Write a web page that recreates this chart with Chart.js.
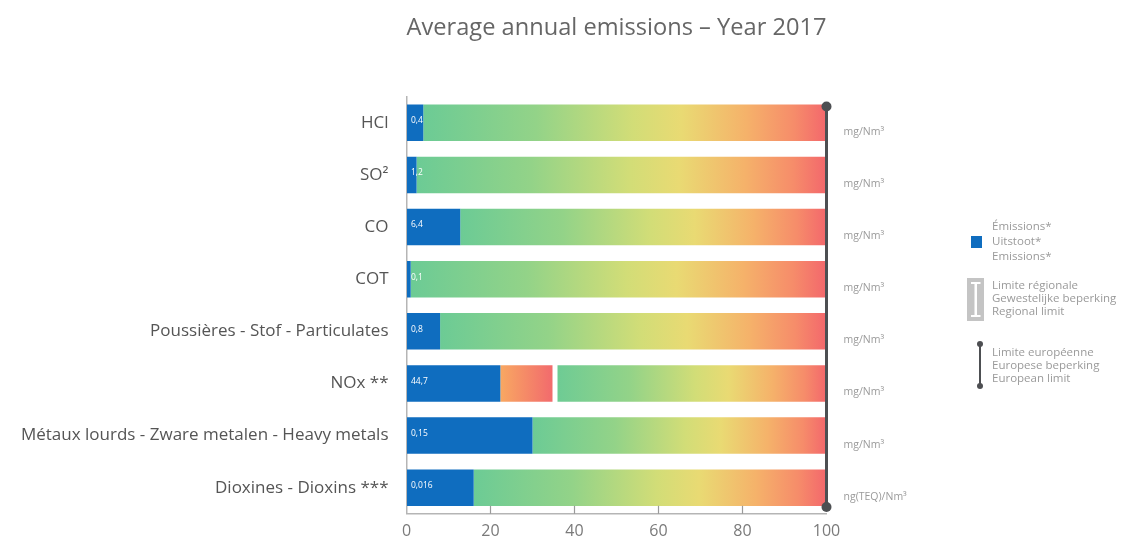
<!DOCTYPE html>
<html>
<head>
<meta charset="utf-8">
<title>Average annual emissions – Year 2017</title>
<script src="https://cdn.jsdelivr.net/npm/chart.js@4.4.1/dist/chart.umd.min.js"></script>
<style>
  html, body { margin: 0; padding: 0; background: #ffffff; }
  #wrap { position: relative; width: 1132px; height: 542px; }
</style>
</head>
<body>
<div id="wrap"><canvas id="chart"></canvas></div>
<script>
// Pollutants, measured yearly averages and the European limit values they are compared with
const categories = [
  'HCl',
  'SO²',
  'CO',
  'COT',
  'Poussières - Stof - Particulates',
  'NOx **',
  'Métaux lourds - Zware metalen - Heavy metals',
  'Dioxines - Dioxins ***'
];
const emissionValues = [0.4, 1.2, 6.4, 0.1, 0.8, 44.7, 0.15, 0.016];
const emissionLabels = ['0,4', '1,2', '6,4', '0,1', '0,8', '44,7', '0,15', '0,016'];
const europeanLimits = [10, 50, 50, 10, 10, 200, 0.5, 0.1];
const regionalLimits = [null, null, null, null, null, 70, null, null];
const unitLabels = ['mg/Nm³', 'mg/Nm³', 'mg/Nm³', 'mg/Nm³', 'mg/Nm³', 'mg/Nm³', 'mg/Nm³', 'ng(TEQ)/Nm³'];
const xTicks = [0, 20, 40, 60, 80, 100];

// Share of the European limit, in %
const emissionPct = emissionValues.map((v, i) => v / europeanLimits[i] * 100);
const regionalPct = regionalLimits.map((r, i) => r == null ? null : r / europeanLimits[i] * 100);

const FONT = "'Open Sans', 'Noto Sans', sans-serif";
const BLUE = '#0f6dbf';

// Floating bars: [start, end] on the 0–100 scale
const emissionBars = emissionPct.map(p => [0, p]);
const regionalBars = emissionPct.map((p, i) => regionalPct[i] == null ? null : [p, regionalPct[i]]);
const headroomBars = emissionPct.map((p, i) => [regionalPct[i] == null ? p : regionalPct[i], 100]);

function barGradient(ctx, stops) {
  const chart = ctx.chart;
  if (!chart.chartArea || !ctx.raw) return stops[0][1];
  const x = chart.scales.x;
  const x0 = x.getPixelForValue(ctx.raw[0]);
  const x1 = x.getPixelForValue(ctx.raw[1]);
  const g = chart.ctx.createLinearGradient(x0, 0, x1, 0);
  stops.forEach(s => g.addColorStop(s[0], s[1]));
  return g;
}

const headroomStops = [
  [0.00, '#6ccb95'],
  [0.28, '#93d388'],
  [0.52, '#d2dd77'],
  [0.64, '#e9da73'],
  [0.80, '#f5b26a'],
  [0.92, '#f68c6a'],
  [1.00, '#f3676c']
];
const regionalStops = [
  [0.00, '#f8a862'],
  [1.00, '#f2696d']
];

// Extra drawing: values inside the blue bars, units, limit markers, axis ticks, legend
const decorations = {
  id: 'decorations',
  afterDatasetsDraw(chart) {
    const { ctx, scales } = chart;
    const x = scales.x;
    const meta = chart.getDatasetMeta(0);
    const bars = meta.data;
    const h = bars[0].height;

    ctx.save();

    // regional limit marker (white gap inside the bar)
    regionalPct.forEach((r, i) => {
      if (r == null) return;
      const px = x.getPixelForValue(r);
      const el = bars[i];
      ctx.fillStyle = '#ffffff';
      ctx.fillRect(px - 1, el.y - h / 2 - 1, 5, h + 2);
    });

    // emission values
    ctx.fillStyle = '#ffffff';
    ctx.font = '8.5px ' + FONT;
    ctx.textAlign = 'left';
    ctx.textBaseline = 'middle';
    bars.forEach((el, i) => {
      ctx.fillText(emissionLabels[i], el.base + 4, el.y - 2);
    });

    // units at the right of the bars
    ctx.fillStyle = '#9a9a9a';
    ctx.font = '10.5px ' + FONT;
    bars.forEach((el, i) => {
      ctx.fillText(unitLabels[i], x.getPixelForValue(100) + 17, el.y + 9);
    });

    // European limit: vertical line with round ends
    const ex = x.getPixelForValue(100);
    const top = bars[0].y - h / 2 + 2;
    const bottom = bars[bars.length - 1].y + h / 2 + 1;
    ctx.strokeStyle = '#4d4f52';
    ctx.lineWidth = 3;
    ctx.beginPath();
    ctx.moveTo(ex, top);
    ctx.lineTo(ex, bottom);
    ctx.stroke();
    ctx.fillStyle = '#4d4f52';
    [top, bottom].forEach(y => {
      ctx.beginPath();
      ctx.arc(ex, y, 5, 0, Math.PI * 2);
      ctx.fill();
    });

    // inner tick marks on the value axis
    ctx.strokeStyle = '#9a9a9a';
    ctx.lineWidth = 1.2;
    const yb = chart.chartArea.bottom;
    xTicks.slice(1, -1).forEach(v => {
      const px = x.getPixelForValue(v);
      ctx.beginPath();
      ctx.moveTo(px, yb - 8);
      ctx.lineTo(px, yb);
      ctx.stroke();
    });

    // legend
    ctx.font = '11.5px ' + FONT;
    ctx.fillStyle = '#9a9a9a';
    ctx.textBaseline = 'middle';
    const tx = 992;
    ['Émissions*', 'Uitstoot*', 'Emissions*'].forEach((t, k) => ctx.fillText(t, tx, 227 + k * 15));
    ctx.fillStyle = BLUE;
    ctx.fillRect(971, 236, 11, 12);

    ctx.fillStyle = '#c4c4c4';
    ctx.fillRect(967, 278, 17, 43);
    ctx.fillStyle = '#ffffff';
    ctx.fillRect(974.5, 283, 2.5, 33);
    ctx.fillRect(971, 282, 9.5, 2);
    ctx.fillRect(971, 315, 9.5, 2);
    ctx.fillStyle = '#9a9a9a';
    ['Limite régionale', 'Gewestelijke beperking', 'Regional limit'].forEach((t, k) => ctx.fillText(t, tx, 286 + k * 13));

    ctx.strokeStyle = '#4d4f52';
    ctx.lineWidth = 2;
    ctx.beginPath();
    ctx.moveTo(980, 344);
    ctx.lineTo(980, 386);
    ctx.stroke();
    ctx.fillStyle = '#4d4f52';
    [344, 386].forEach(y => { ctx.beginPath(); ctx.arc(980, y, 3, 0, Math.PI * 2); ctx.fill(); });
    ctx.fillStyle = '#9a9a9a';
    ['Limite européenne', 'Europese beperking', 'European limit'].forEach((t, k) => ctx.fillText(t, tx, 353 + k * 13));

    ctx.restore();
  }
};

new Chart(document.getElementById('chart'), {
  type: 'bar',
  data: {
    labels: categories,
    datasets: [
      {
        label: 'Émissions',
        data: emissionBars,
        backgroundColor: BLUE,
        grouped: false,
        order: 0
      },
      {
        label: 'Limite régionale',
        data: regionalBars,
        backgroundColor: ctx => barGradient(ctx, regionalStops),
        grouped: false,
        order: 1
      },
      {
        label: 'Limite européenne',
        data: headroomBars,
        backgroundColor: ctx => barGradient(ctx, headroomStops),
        grouped: false,
        order: 2
      }
    ]
  },
  options: {
    indexAxis: 'y',
    responsive: true,
    maintainAspectRatio: false,
    animation: false,
    layout: { padding: { left: 0, right: 305.5, top: 0, bottom: 0 } },
    datasets: {
      bar: { categoryPercentage: 1, barPercentage: 0.7, borderWidth: 0 }
    },
    scales: {
      x: {
        min: 0,
        max: 100,
        afterBuildTicks(scale) { scale.ticks = xTicks.map(v => ({ value: v })); },
        afterFit(scale) { scale.height = 24.7; },
        grid: { display: true, drawOnChartArea: false, drawTicks: false },
        border: { display: true, color: '#b5b5b5', width: 1.5 },
        ticks: { color: '#7a7a7a', font: { family: FONT, size: 16 }, padding: 8 }
      },
      y: {
        afterFit(scale) { scale.width = 406.5; },
        grid: { display: true, drawOnChartArea: false, drawTicks: false },
        border: { display: true, color: '#b5b5b5', width: 1.5 },
        ticks: { color: '#555555', font: { family: FONT, size: 17 }, padding: 18 }
      }
    },
    plugins: {
      legend: { display: false },
      tooltip: { enabled: false },
      title: {
        display: true,
        fullSize: false,
        text: 'Average annual emissions – Year 2017',
        color: '#666666',
        font: { family: FONT, size: 24, weight: 'normal' },
        padding: { top: 14, bottom: 53.9 }
      }
    }
  },
  plugins: [decorations]
});
</script>
</body>
</html>
